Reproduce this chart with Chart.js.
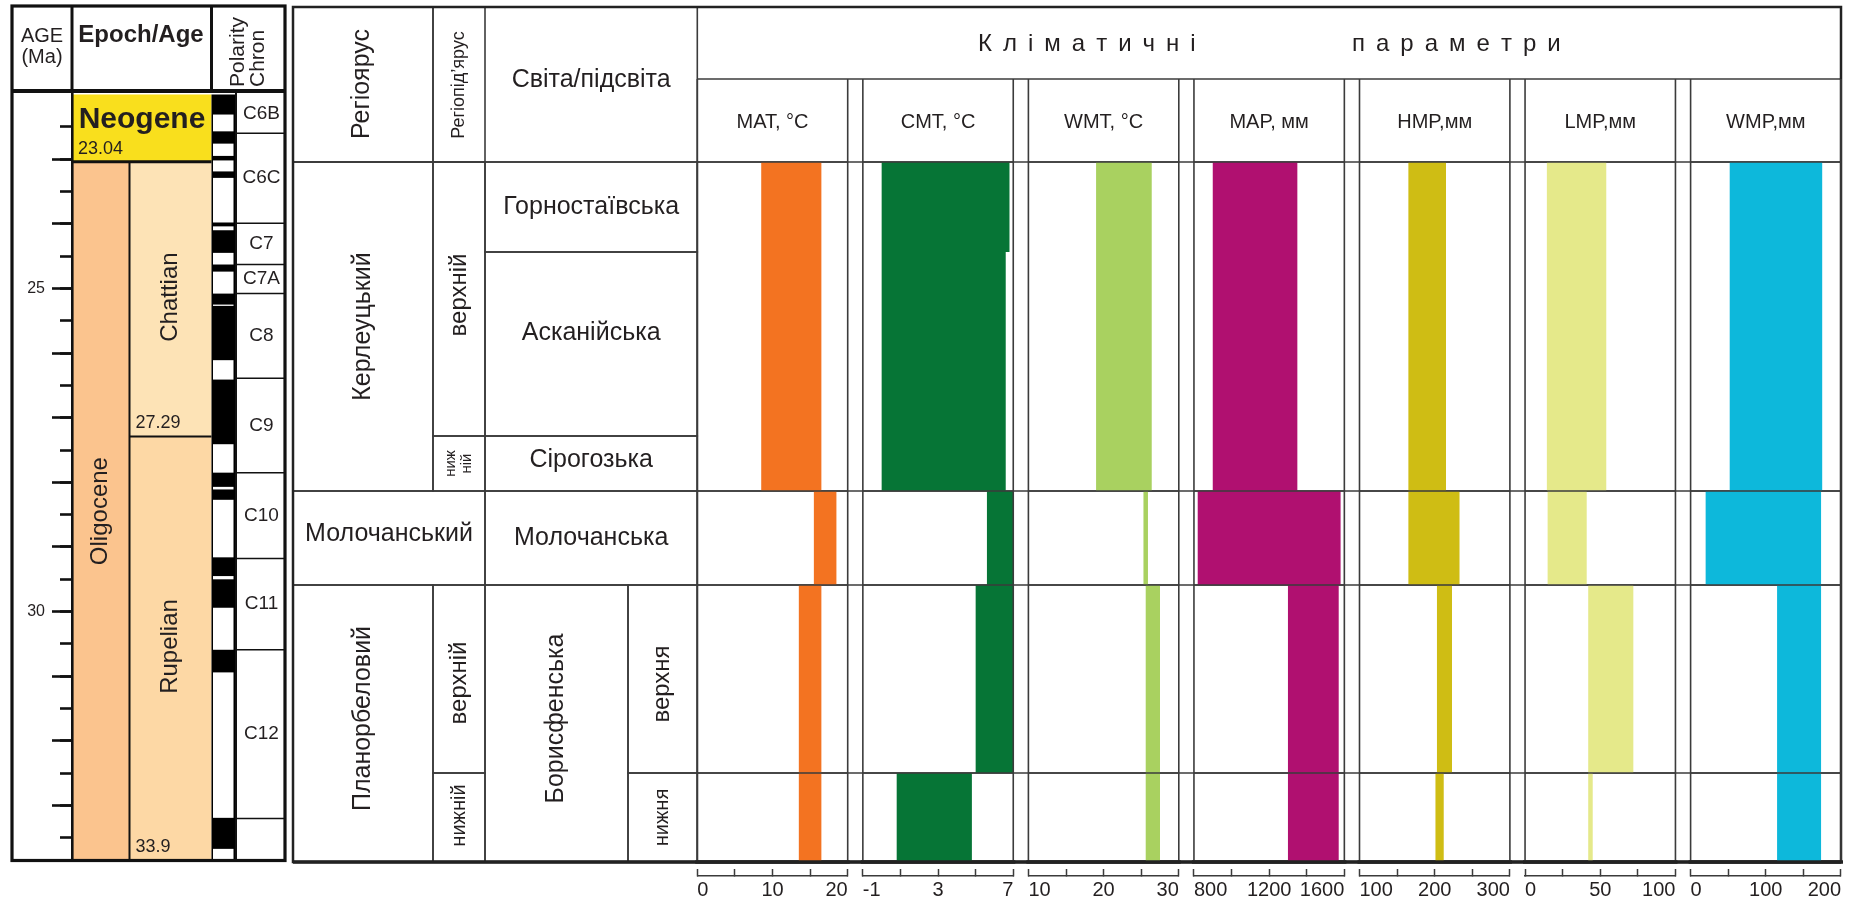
<!DOCTYPE html>
<html lang="uk">
<head>
<meta charset="utf-8">
<title>Кліматичні параметри</title>
<script src="https://cdn.jsdelivr.net/npm/chart.js@4.4.1/dist/chart.umd.min.js"></script>
<style>
  html, body { margin: 0; padding: 0; background: #fff; }
  #wrap { position: relative; width: 1866px; height: 904px; overflow: hidden; background: #fff; }
  #wrap canvas { position: absolute; top: 0; }
</style>
</head>
<body>
<div id="wrap">
  <canvas id="bg" width="1866" height="904" style="left:0"></canvas>
  <canvas id="ageTicks" width="290" height="904" style="left:0"></canvas>
</div>
<script>
// ===== дані =====

// шкала віку, млн років
const ageRange = [22, 33.85];
const ageLabels = [25, 30];
const epochNames = ['Neogene', 'Oligocene'];
const epochBounds = [22, 23.04, 33.9];
const stageNames = ['Chattian', 'Rupelian'];
const stageBounds = [23.04, 27.29, 33.9];
const chronNames = ['C6B', 'C6C', 'C7', 'C7A', 'C8', 'C9', 'C10', 'C11', 'C12', ''];
const chronBounds = [22, 22.6, 23.99, 24.63, 25.08, 26.39, 27.85, 29.18, 30.59, 33.2, 33.9];
// нормальна полярність (чорні смуги)
const normalPolarity = [
  [22.0, 22.31], [22.57, 22.76], [22.95, 23.02], [23.19, 23.29], [23.98, 24.04],
  [24.10, 24.45], [24.63, 24.74], [25.08, 25.25], [25.27, 26.11], [26.41, 27.41],
  [27.85, 28.07], [28.11, 28.27], [29.16, 29.45], [29.50, 29.94], [30.59, 30.94],
  [33.19, 33.67]
];

// стратиграфія (умовна потужність)
const rowNames = ['Горностаївська', 'Асканійська', 'Сірогозька', 'Молочанська', 'Борисфенська верхня', 'Борисфенська нижня'];
const rowBounds = [0, 9, 27.4, 32.9, 42.3, 61.1, 70];
const climateBreaks = [32.9, 42.3, 61.1];

const regioStages = ['Керлеуцький', 'Молочанський', 'Планорбеловий'];
const regioSubstages = ['верхній', 'ниж\nній', 'верхній', 'нижній'];
const svity = ['Горностаївська', 'Асканійська', 'Сірогозька', 'Молочанська', 'Борисфенська'];
const pidsvity = ['верхня', 'нижня'];

// кліматичні параметри
const paramNames = ['MAT, °C', 'CMT, °C', 'WMT, °C', 'MAP, мм', 'HMP,мм', 'LMP,мм', 'WMP,мм'];
const paramColors = ['#f37321', '#067536', '#a9d160', '#b01070', '#cfbd14', '#e5e98a', '#0db8db'];
const paramRanges = [[0, 20], [-1, 7], [10, 30], [800, 1600], [100, 300], [0, 100], [0, 200]];
const tickLabels = [
  ['0', '10', '20'], ['-1', '3', '7'], ['10', '20', '30'], ['800', '1200', '1600'],
  ['100', '200', '300'], ['0', '50', '100'], ['0', '100', '200']
];

// інтервал [мін, макс] для кожного рядка rowNames
const matVals = [[8.5, 16.5], [8.5, 16.5], [8.5, 16.5], [15.5, 18.5], [13.5, 16.5], [13.5, 16.5]];
const cmtVals = [[0, 6.8], [0, 6.6], [0, 6.6], [5.6, 7], [5, 7], [0.8, 4.8]];
const wmtVals = [[19, 26.4], [19, 26.4], [19, 26.4], [25.3, 25.9], [25.6, 27.5], [25.6, 27.5]];
const mapVals = [[900, 1350], [900, 1350], [900, 1350], [820, 1580], [1300, 1570], [1300, 1570]];
const hmpVals = [[165, 215], [165, 215], [165, 215], [165, 233], [203, 223], [201, 212]];
const lmpVals = [[14.5, 54], [14.5, 54], [14.5, 54], [15, 41], [42, 72], [42, 45]];
const wmpVals = [[52, 175], [52, 175], [52, 175], [20, 173.5], [115, 173.5], [115, 173.5]];
const paramValues = [matVals, cmtVals, wmtVals, mapVals, hmpVals, lmpVals, wmpVals];

// ===== розмітка =====
const FONT = '"Liberation Sans", Arial, sans-serif';
const INK = '#231f20';
const RULE = '#3b3b3b';
Chart.defaults.font.family = FONT;
Chart.defaults.color = INK;

const L = {
  boxLeft: 12, boxRight: 285, boxTop: 6, headBottom: 91,
  axisX: 72, oligoRight: 129.5, stageRight: 211.5, polRight: 236,
  tableTop: 7, subHead: 79, secTop: 162, secBottom: 862, axisLine: 876,
  cols: [293, 433, 485, 628, 697.3],
  panelLeft: 697.3, panelStep: 165.55, panelWidth: 150.4
};
const tableRight = L.panelLeft + 6 * L.panelStep + L.panelWidth;
const secMax = rowBounds[rowBounds.length - 1] * (L.axisLine - L.secTop) / (L.secBottom - L.secTop);

// [текст, стовпці від-до, рядки від-до, поворот, шрифт, зсув по y]
const strataCells = [
  [regioStages[0], 0, 1, 0, 3, true, 25, 0],
  [regioSubstages[0], 1, 2, 0, 2, true, 24, -4],
  [regioSubstages[1], 1, 2, 2, 3, true, 15, 0],
  [svity[0], 2, 4, 0, 1, false, 25, 0],
  [svity[1], 2, 4, 1, 2, false, 25, -11],
  [svity[2], 2, 4, 2, 3, false, 25, -3],
  [regioStages[1], 0, 2, 3, 4, false, 25, -4],
  [svity[3], 2, 4, 3, 4, false, 25, 0],
  [regioStages[2], 0, 1, 4, 6, true, 25, -5],
  [regioSubstages[2], 1, 2, 4, 5, true, 24, 4],
  [regioSubstages[3], 1, 2, 5, 6, true, 20, -2],
  [svity[4], 2, 3, 4, 6, true, 25, -5],
  [pidsvity[0], 3, 4, 4, 5, true, 24, 5],
  [pidsvity[1], 3, 4, 5, 6, true, 20, 0]
];

function drawText(ctx, text, x, y, size, o = {}) {
  ctx.save();
  ctx.translate(x, y);
  if (o.rot) ctx.rotate(-Math.PI / 2);
  ctx.font = (o.bold ? 'bold ' : '') + size + 'px ' + FONT;
  ctx.fillStyle = INK;
  ctx.textAlign = o.align || 'center';
  ctx.textBaseline = 'middle';
  const lines = text.split('\n');
  const lh = size * 1.1;
  lines.forEach((ln, k) => ctx.fillText(ln, 0, (k - (lines.length - 1) / 2) * lh));
  ctx.restore();
}

// розріджений напис: літери з однаковим проміжком
function spacedText(ctx, word, x0, gap, y) {
  let x = x0;
  [...word].forEach(ch => { ctx.fillText(ch, x, y); x += ctx.measureText(ch).width + gap; });
}

function seg(ctx, x1, y1, x2, y2) {
  ctx.beginPath();
  ctx.moveTo(x1, y1);
  ctx.lineTo(x2, y2);
  ctx.stroke();
}

// лінії всередині панелей поверх стовпчиків
const panelLines = {
  id: 'panelLines',
  afterDatasetsDraw(chart) {
    const {ctx, chartArea: a, scales: {y}} = chart;
    const yb = y.getPixelForValue(rowBounds[rowBounds.length - 1]);
    ctx.save();
    ctx.strokeStyle = RULE;
    ctx.lineWidth = 1.6;
    [rowBounds[0], ...climateBreaks].forEach(v => seg(ctx, a.left, y.getPixelForValue(v), a.right, y.getPixelForValue(v)));
    seg(ctx, a.left, L.subHead, a.left, yb);
    seg(ctx, a.right, L.subHead, a.right, yb);
    ctx.strokeStyle = '#222';
    ctx.lineWidth = 3.5;
    seg(ctx, a.left - 2, yb, a.right + 2, yb);
    ctx.restore();
  }
};

// ===== панелі кліматичних параметрів =====
const wrap = document.getElementById('wrap');
const panelCharts = paramNames.map((name, i) => {
  const left = L.panelLeft + i * L.panelStep;
  const cLeft = Math.floor(left) - 24;
  const cv = document.createElement('canvas');
  cv.width = 200;
  cv.height = 904;
  cv.style.left = cLeft + 'px';
  wrap.appendChild(cv);
  const padL = left - cLeft;
  const padR = 200 - padL - L.panelWidth;
  const [min, max] = paramRanges[i];
  const vals = paramValues[i];

  return new Chart(cv, {
    type: 'line',
    data: {
      datasets: vals.map((v, r) => ({
        data: [
          {x: v[0], y: rowBounds[r]}, {x: v[1], y: rowBounds[r]},
          {x: v[1], y: rowBounds[r + 1]}, {x: v[0], y: rowBounds[r + 1]}
        ],
        backgroundColor: paramColors[i],
        borderColor: 'rgba(0,0,0,0)',
        borderWidth: 0,
        pointRadius: 0,
        fill: 'shape'
      }))
    },
    options: {
      responsive: false,
      animation: false,
      events: [],
      layout: {padding: {left: padL, right: padR, top: 0, bottom: 0}},
      plugins: {
        legend: {display: false},
        tooltip: {enabled: false},
        title: {
          display: true,
          text: name,
          color: INK,
          font: {size: 20, weight: 'normal', lineHeight: 1.2},
          padding: {top: 110, bottom: 28}
        }
      },
      scales: {
        x: {
          type: 'linear',
          min: min,
          max: max,
          afterFit: s => { s.height = 904 - L.axisLine; },
          ticks: {
            stepSize: (max - min) / 4,
            autoSkip: false,
            maxRotation: 0,
            align: 'inner',
            padding: 9,
            color: INK,
            font: {size: 20},
            callback: (v, idx) => idx % 2 === 0 ? tickLabels[i][idx / 2] : ''
          },
          grid: {drawOnChartArea: false, tickLength: -7, tickWidth: 1.5, tickColor: RULE},
          border: {display: true, color: RULE, width: 1.5}
        },
        y: {type: 'linear', display: false, reverse: true, min: 0, max: secMax}
      }
    },
    plugins: [panelLines]
  });
});

const secY = v => panelCharts[0].scales.y.getPixelForValue(v);

// ===== фон: шкала віку + таблиця =====
const bgPlugin = {
  id: 'bgPlugin',
  beforeDraw(chart) {
    const {ctx} = chart;
    const ya = v => chart.scales.y.getPixelForValue(Math.min(v, ageRange[1]));
    ctx.save();
    ctx.fillStyle = '#f9df1d';
    ctx.fillRect(L.axisX, ya(epochBounds[0]), L.stageRight - L.axisX, ya(epochBounds[1]) - ya(epochBounds[0]));
    ctx.fillStyle = '#fbc48e';
    ctx.fillRect(L.axisX, ya(epochBounds[1]), L.oligoRight - L.axisX, ya(epochBounds[2]) - ya(epochBounds[1]));
    ['#fde3b6', '#fdd8a5'].forEach((c, k) => {
      ctx.fillStyle = c;
      ctx.fillRect(L.oligoRight, ya(stageBounds[k]), L.stageRight - L.oligoRight, ya(stageBounds[k + 1]) - ya(stageBounds[k]));
    });
    // полярність: чорна основа, білі обернені інтервали
    ctx.fillStyle = '#000';
    ctx.fillRect(L.stageRight, ya(ageRange[0]), L.polRight - L.stageRight, ya(ageRange[1]) - ya(ageRange[0]));
    ctx.fillStyle = '#fff';
    let start = ageRange[0];
    const white = (a, b) => ctx.fillRect(L.stageRight + 1.5, ya(a), L.polRight - L.stageRight - 4, ya(b) - ya(a));
    normalPolarity.forEach(([a, b]) => { if (a > start) white(start, a); start = b; });
    if (start < chronBounds[chronBounds.length - 1]) white(start, chronBounds[chronBounds.length - 1]);
    ctx.restore();
  },
  afterDraw(chart) {
    const {ctx} = chart;
    const ya = v => chart.scales.y.getPixelForValue(Math.min(v, ageRange[1]));
    const bottom = ya(ageRange[1]);
    ctx.save();
    ctx.strokeStyle = '#111';

    // --- ліва колонка ---
    ctx.lineWidth = 2;
    seg(ctx, L.oligoRight, ya(epochBounds[1]), L.oligoRight, bottom);
    seg(ctx, L.oligoRight, ya(stageBounds[1]), L.stageRight, ya(stageBounds[1]));
    seg(ctx, L.polRight, L.headBottom, L.polRight, bottom);
    ctx.lineWidth = 1.5;
    chronBounds.slice(1, -1).forEach(v => seg(ctx, L.polRight, ya(v), L.boxRight, ya(v)));
    ctx.lineWidth = 3;
    seg(ctx, L.axisX, ya(epochBounds[1]), L.stageRight, ya(epochBounds[1]));
    seg(ctx, L.stageRight, L.boxTop, L.stageRight, L.headBottom);
    seg(ctx, L.axisX, L.boxTop, L.axisX, L.headBottom);
    ctx.lineWidth = 4;
    seg(ctx, L.boxLeft, L.headBottom, L.boxRight, L.headBottom);
    ctx.lineWidth = 3.2;
    ctx.strokeRect(L.boxLeft, L.boxTop, L.boxRight - L.boxLeft, bottom - L.boxTop);

    drawText(ctx, 'AGE', 42, 36, 20);
    drawText(ctx, '(Ma)', 42, 57, 20);
    drawText(ctx, 'Epoch/Age', 141, 35, 24, {bold: true});
    drawText(ctx, 'Polarity', 238, 87, 21, {rot: true, align: 'left'});
    drawText(ctx, 'Chron', 258, 87, 21, {rot: true, align: 'left'});
    drawText(ctx, epochNames[0], 142, 120, 30, {bold: true});
    drawText(ctx, String(epochBounds[1]), 78, 149, 18, {align: 'left'});
    drawText(ctx, epochNames[1], (L.axisX + L.oligoRight) / 2, (ya(epochBounds[1]) + bottom) / 2, 24, {rot: true});
    stageNames.forEach((s, k) => {
      drawText(ctx, s, (L.oligoRight + L.stageRight) / 2, (ya(stageBounds[k]) + ya(stageBounds[k + 1])) / 2 - 2, 24, {rot: true});
      drawText(ctx, String(stageBounds[k + 1]), L.oligoRight + 6, ya(stageBounds[k + 1]) - 13, 18, {align: 'left'});
    });
    chronNames.forEach((c, k) => {
      if (c) drawText(ctx, c, (L.polRight + L.boxRight) / 2 + 1, (ya(chronBounds[k]) + ya(chronBounds[k + 1])) / 2, 19);
    });

    // --- права таблиця ---
    const c = L.cols;
    ctx.strokeStyle = RULE;
    ctx.lineWidth = 1.6;
    strataCells.forEach(([t, c0, c1, r0, r1, rot, size, dy]) => {
      const x0 = c[c0], x1 = c[c1], y0 = secY(rowBounds[r0]), y1 = secY(rowBounds[r1]);
      ctx.strokeRect(x0, y0, x1 - x0, y1 - y0);
      drawText(ctx, t, (x0 + x1) / 2, (y0 + y1) / 2 + dy, size, {rot});
    });
    ctx.strokeRect(c[0], L.tableTop, c[1] - c[0], L.secTop - L.tableTop);
    ctx.strokeRect(c[1], L.tableTop, c[2] - c[1], L.secTop - L.tableTop);
    seg(ctx, c[4], L.tableTop, c[4], L.secBottom);
    seg(ctx, c[0], L.secTop, tableRight, L.secTop);
    seg(ctx, c[4], L.subHead, tableRight, L.subHead);
    climateBreaks.forEach(v => seg(ctx, c[4], secY(v), tableRight, secY(v)));
    drawText(ctx, 'Регіоярус', (c[0] + c[1]) / 2 - 1, 84, 25, {rot: true});
    drawText(ctx, 'Регіопід’ярус', (c[1] + c[2]) / 2, 85, 18, {rot: true});
    drawText(ctx, 'Світа/підсвіта', (c[2] + c[4]) / 2, 80, 25);

    // заголовок кліматичних параметрів (розріджений)
    ctx.font = '24px ' + FONT;
    ctx.fillStyle = INK;
    ctx.textBaseline = 'middle';
    ctx.textAlign = 'left';
    spacedText(ctx, 'Кліматичні', 978, 11, 44);
    spacedText(ctx, 'параметри', 1352, 11, 44);

    ctx.strokeStyle = '#222';
    ctx.lineWidth = 2.5;
    ctx.strokeRect(c[0], L.tableTop, tableRight - c[0], L.secBottom - L.tableTop);
    ctx.lineWidth = 3.5;
    seg(ctx, c[0], L.secBottom, tableRight, L.secBottom);
    ctx.restore();
  }
};

const ageAxisBase = {
  type: 'linear',
  reverse: true,
  min: ageRange[0],
  max: ageRange[1],
  afterFit: s => { s.width = L.axisX - L.boxLeft; },
  afterBuildTicks: s => { s.ticks = s.ticks.filter(t => t.value > ageRange[0] + 1e-6); }
};

new Chart(document.getElementById('bg'), {
  type: 'line',
  data: {datasets: []},
  options: {
    responsive: false,
    animation: false,
    events: [],
    layout: {padding: {left: L.boxLeft, top: 94.5, bottom: 43.5, right: 0}},
    plugins: {legend: {display: false}, tooltip: {enabled: false}},
    scales: {
      x: {type: 'linear', display: false},
      y: Object.assign({}, ageAxisBase, {
        ticks: {stepSize: 0.5, includeBounds: false, display: false},
        grid: {drawOnChartArea: false, tickLength: 12, tickWidth: 2.6, tickColor: '#111'},
        border: {display: true, color: '#111', width: 2.6}
      })
    }
  },
  plugins: [bgPlugin]
});

// великі поділки з підписами
new Chart(document.getElementById('ageTicks'), {
  type: 'line',
  data: {datasets: []},
  options: {
    responsive: false,
    animation: false,
    events: [],
    layout: {padding: {left: L.boxLeft, top: 94.5, bottom: 43.5, right: 0}},
    plugins: {legend: {display: false}, tooltip: {enabled: false}},
    scales: {
      x: {type: 'linear', display: false},
      y: Object.assign({}, ageAxisBase, {
        ticks: {
          stepSize: 1,
          includeBounds: false,
          padding: 7,
          color: INK,
          font: {size: 16},
          callback: v => ageLabels.includes(v) ? String(v) : ''
        },
        grid: {drawOnChartArea: false, tickLength: 20, tickWidth: 2.6, tickColor: '#111'},
        border: {display: false}
      })
    }
  }
});
</script>
</body>
</html>
